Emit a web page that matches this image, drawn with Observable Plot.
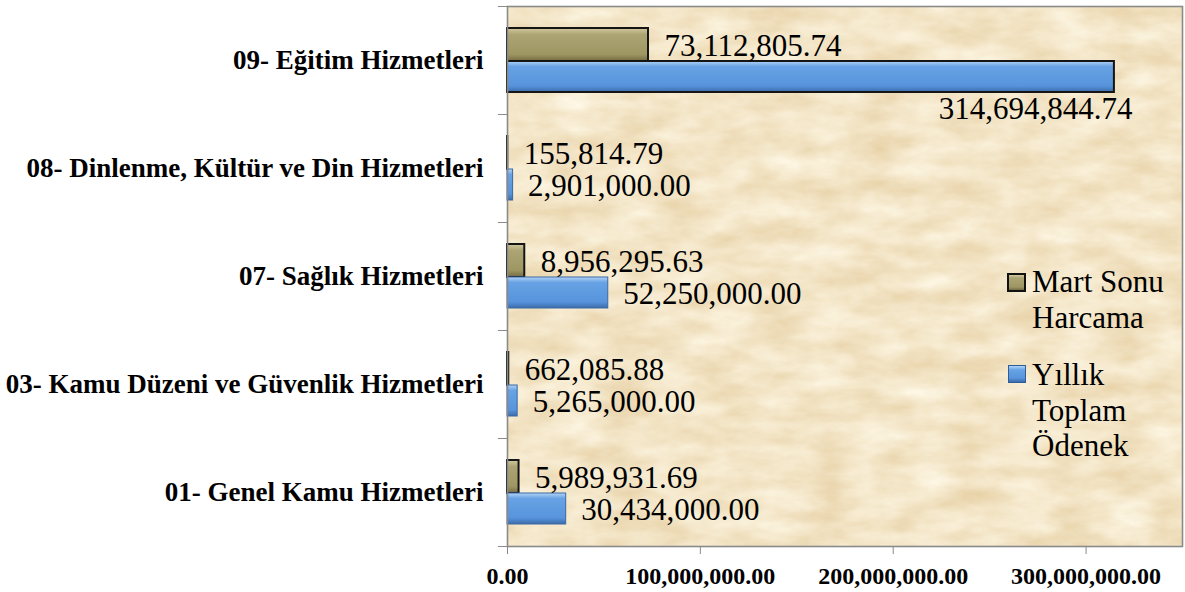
<!DOCTYPE html>
<html>
<head>
<meta charset="utf-8">
<script src="https://cdn.jsdelivr.net/npm/d3@7"></script>
<script src="https://cdn.jsdelivr.net/npm/@observablehq/plot@0.6"></script>
<style>
  body { margin: 0; background: #fff; }
  #wrap { position: relative; width: 1185px; height: 592px; overflow: hidden;
          font-family: "Liberation Serif", "Times New Roman", serif; }
  .leg { position: absolute; font-size: 31px; line-height: 35.5px; color: #000; white-space: nowrap; }
  .sw { position: absolute; box-sizing: border-box; }
</style>
</head>
<body>
<svg width="0" height="0" style="position:absolute">
  <defs>
    <linearGradient id="gMart" x1="0" y1="0" x2="0" y2="1">
      <stop offset="0" stop-color="#d2ca9f"/>
      <stop offset="0.2" stop-color="#aca474"/>
      <stop offset="0.8" stop-color="#9e9662"/>
      <stop offset="1" stop-color="#736b42"/>
    </linearGradient>
    <linearGradient id="gYil" x1="0" y1="0" x2="0" y2="1">
      <stop offset="0" stop-color="#b3d4f7"/>
      <stop offset="0.18" stop-color="#66a2e4"/>
      <stop offset="0.8" stop-color="#5894dc"/>
      <stop offset="1" stop-color="#3b6cab"/>
    </linearGradient>
    <filter id="paperNoise" x="0" y="0" width="1" height="1" filterUnits="objectBoundingBox" color-interpolation-filters="sRGB">
      <feTurbulence type="fractalNoise" baseFrequency="0.02 0.045" numOctaves="4" seed="11" result="n"/>
      <feColorMatrix in="n" type="matrix"
        values="0.1 0 0 0 0.903  0.17 0 0 0 0.813  0.28 0 0 0 0.64  0 0 0 0 1"/>
    </filter>
  </defs>
</svg>
<div id="wrap"></div>
<script>
// ---- data ----
const categories = [
  "09- Eğitim Hizmetleri",
  "08- Dinlenme, Kültür ve Din Hizmetleri",
  "07- Sağlık Hizmetleri",
  "03- Kamu Düzeni ve Güvenlik Hizmetleri",
  "01- Genel Kamu Hizmetleri"
];
const seriesNames = ["Mart Sonu Harcama", "Yıllık Toplam Ödenek"];
const martSonu = [73112805.74, 155814.79, 8956295.63, 662085.88, 5989931.69];
const yillik = [314694844.74, 2901000.00, 52250000.00, 5265000.00, 30434000.00];
const xTicks = [0, 100000000, 200000000, 300000000];
const xMax = 350000000;

const rows = categories.map((c, i) => ({category: c, mart: martSonu[i], yillik: yillik[i]}));
const fmt = d3.format(",.2f");
const serif = '"Liberation Serif", "Times New Roman", serif';
const bigValue = 300000000;

const chart = Plot.plot({
  width: 1185,
  height: 592,
  marginTop: 6,
  marginBottom: 46,
  marginLeft: 507,
  marginRight: 3,
  style: {fontFamily: serif, color: "#000", background: "#fff", overflow: "visible"},
  x: {domain: [0, xMax]},
  y: {domain: categories, padding: 0},
  marks: [
    Plot.frame({fill: "#f2e4c6", ariaLabel: "paper"}),
    Plot.barX(rows, {x: "mart", y: "category", fill: "url(#gMart)", stroke: "#151515", strokeWidth: 2, insetTop: 22, insetBottom: 53}),
    Plot.barX(rows, {x: "yillik", y: "category", fill: "url(#gYil)",
      stroke: d => d.yillik > bigValue ? "#151515" : "#3a68a4",
      strokeWidth: d => d.yillik > bigValue ? 2 : 1, insetTop: 55, insetBottom: 22}),
    Plot.text(rows, {x: "mart", y: "category", text: d => fmt(d.mart), textAnchor: "start", dx: 16, dy: -14, fontSize: 31, fill: "#000"}),
    Plot.text(rows.filter(d => d.yillik <= bigValue), {x: "yillik", y: "category", text: d => fmt(d.yillik), textAnchor: "start", dx: 15, dy: 17.5, fontSize: 31, fill: "#000"}),
    Plot.text(rows.filter(d => d.yillik > bigValue), {x: "yillik", y: "category", text: d => fmt(d.yillik), textAnchor: "end", dx: 18, dy: 48.5, fontSize: 31, fill: "#000"}),
    Plot.frame({stroke: "#8a8a8a", strokeWidth: 1.6}),
    Plot.axisX({ticks: xTicks, tickFormat: fmt, tickSize: 8, tickPadding: 12, fontSize: 24, fontWeight: "bold", stroke: "#8a8a8a", label: null}),
    Plot.axisY({tickSize: 0, tickPadding: 24, fontSize: 27, fontWeight: "bold", label: null}),
    Plot.axisY({tickSize: 9, tickFormat: () => "", dy: -54, stroke: "#8a8a8a", label: null}),
    Plot.axisY({ticks: [categories[categories.length - 1]], tickSize: 9, tickFormat: () => "", dy: 54, stroke: "#8a8a8a", label: null})
  ]
});

const paper = chart.querySelector('[aria-label="paper"]');
if (paper) {
  const r = paper.tagName.toLowerCase() === "rect" ? paper : paper.querySelector("rect");
  if (r) r.setAttribute("filter", "url(#paperNoise)");
}

const wrap = document.getElementById("wrap");
wrap.appendChild(chart);

// ---- legend (HTML overlay) ----
function addSwatch(left, top, size, grad, border) {
  const s = document.createElement("div");
  s.className = "sw";
  s.style.left = left + "px";
  s.style.top = top + "px";
  s.style.width = size + "px";
  s.style.height = size + "px";
  s.style.background = grad;
  s.style.border = border;
  wrap.appendChild(s);
}
function addLegendText(left, top, lines) {
  const t = document.createElement("div");
  t.className = "leg";
  t.style.left = left + "px";
  t.style.top = top + "px";
  t.innerHTML = lines.join("<br>");
  wrap.appendChild(t);
}
addSwatch(1007, 273, 19, "linear-gradient(#d2ca9f, #aca474 20%, #9e9662 80%, #736b42)", "2.5px solid #111");
addLegendText(1032, 264, ["Mart Sonu", "Harcama"]);
addSwatch(1008, 365, 18, "linear-gradient(#b3d4f7, #66a2e4 25%, #5894dc 75%, #3b6cab)", "1px solid #2f5d99");
addLegendText(1032, 357, ["Yıllık", "Toplam", "Ödenek"]);
</script>
</body>
</html>
